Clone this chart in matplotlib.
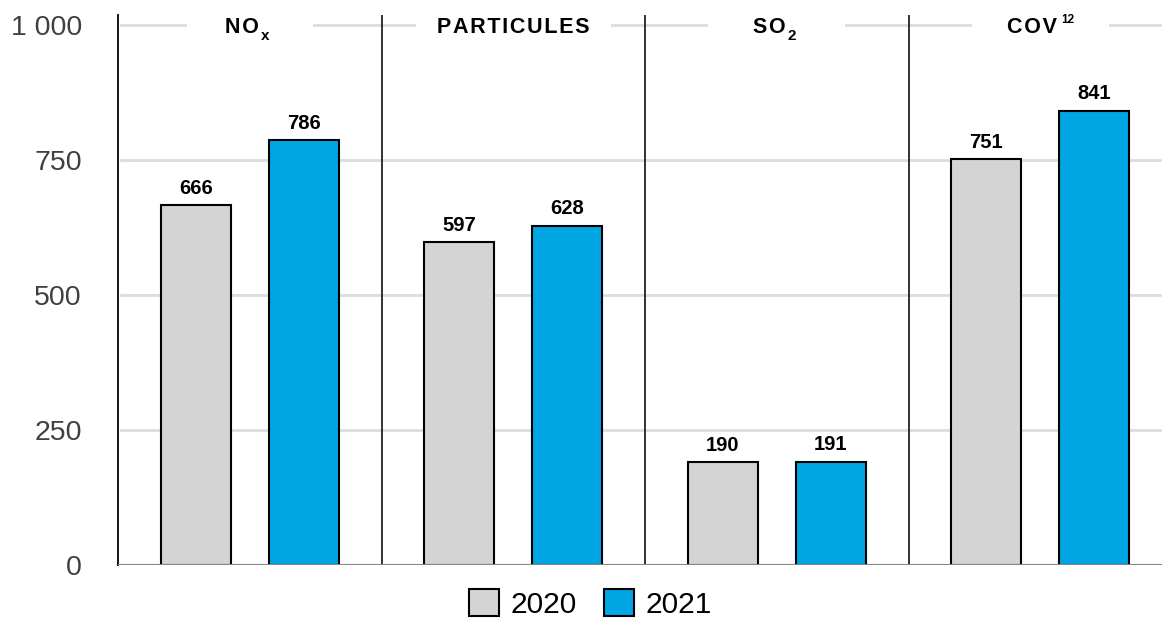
import numpy as np
import matplotlib.pyplot as plt
from matplotlib.patches import Rectangle, Patch

plt.rcParams['font.family'] = ['Liberation Sans', 'DejaVu Sans']

# --- Data ---
categories = ['NO', 'PARTICULES', 'SO', 'COV']
cat_sub = ['x', '', '2', '']
cat_sup = ['', '', '', '12']
years = ['2020', '2021']
values_2020 = [666, 597, 190, 751]
values_2021 = [786, 628, 191, 841]
yticks = [0, 250, 500, 750, 1000]
ytick_labels = ['0', '250', '500', '750', '1 000']

GRAY = '#d4d4d4'
BLUE = '#00a5e3'
HS = '\u200a'

fig = plt.figure(figsize=(11.62, 6.19), dpi=100)
ax = fig.add_axes([118 / 1162, 54 / 619, 1044 / 1162, 550 / 619])

x = np.arange(len(categories))
off = 0.205
w = 0.266
ax.bar(x - off, values_2020, w, color=GRAY, edgecolor='black', linewidth=1.5, zorder=3)
ax.bar(x + off, values_2021, w, color=BLUE, edgecolor='black', linewidth=1.5, zorder=3)

for xi, v in zip(x - off, values_2020):
    ax.text(xi, v + 14, str(v), ha='center', va='bottom', fontsize=14.5, fontweight='bold', zorder=5)
for xi, v in zip(x + off, values_2021):
    ax.text(xi, v + 14, str(v), ha='center', va='bottom', fontsize=14.5, fontweight='bold', zorder=5)

ax.set_xlim(-0.5, 3.462)
ax.set_ylim(0, 1018)

# gridlines
for yv in yticks[1:]:
    ax.axhline(yv, xmin=0.003, color='#dddddd', linewidth=2, zorder=1)
ax.axhline(0, color='#888888', linewidth=1.5, zorder=4)

# group separators
for sx in [0.5, 1.5, 2.5]:
    ax.axvline(sx, ymin=0, ymax=1, color='#222222', linewidth=1.3, zorder=2)

ax.set_yticks(yticks)
ax.set_yticklabels(ytick_labels, fontsize=20.5, color='#404040')
ax.tick_params(axis='y', length=0, pad=26)
ax.set_xticks([])
for s in ['top', 'right', 'bottom']:
    ax.spines[s].set_visible(False)
ax.spines['left'].set_color('black')
ax.spines['left'].set_linewidth(1.3)

# category titles with white gaps in the top gridline
gaps = [0.48, 0.74, 0.52, 0.52]
title_texts = []
for i, name in enumerate(categories):
    ax.add_patch(Rectangle((i - gaps[i] / 2, 985), gaps[i], 30, facecolor='white',
                           edgecolor='none', zorder=1.5))
    spaced = HS.join(name)
    t = ax.text(i - 0.03 if cat_sub[i] or cat_sup[i] else i, 994, spaced, ha='center',
                va='center', fontsize=15.5, fontweight='bold', zorder=5)
    title_texts.append(t)

fig.canvas.draw()
r = fig.canvas.get_renderer()
inv = ax.transData.inverted()
for i, t in enumerate(title_texts):
    bb = t.get_window_extent(r)
    if cat_sub[i]:
        px, py = inv.transform((bb.x1 + 2, bb.y0 + 2))
        ax.text(px, py, cat_sub[i], ha='left', va='center', fontsize=11,
                fontweight='bold', zorder=5)
    if cat_sup[i]:
        px, py = inv.transform((bb.x1 + 4, bb.y1 - 3))
        ax.text(px, py, cat_sup[i], ha='left', va='center', fontsize=8.5,
                fontweight='bold', zorder=5)

handles = [Patch(facecolor=GRAY, edgecolor='black', linewidth=1.5),
           Patch(facecolor=BLUE, edgecolor='black', linewidth=1.5)]
fig.legend(handles, years, loc='center', bbox_to_anchor=(0.508, 1 - 604 / 619), ncol=2,
           frameon=False, fontsize=21.5, handlelength=1.0, handleheight=1.0,
           handletextpad=0.4, columnspacing=0.9)

fig.savefig('out.png', dpi=100)
